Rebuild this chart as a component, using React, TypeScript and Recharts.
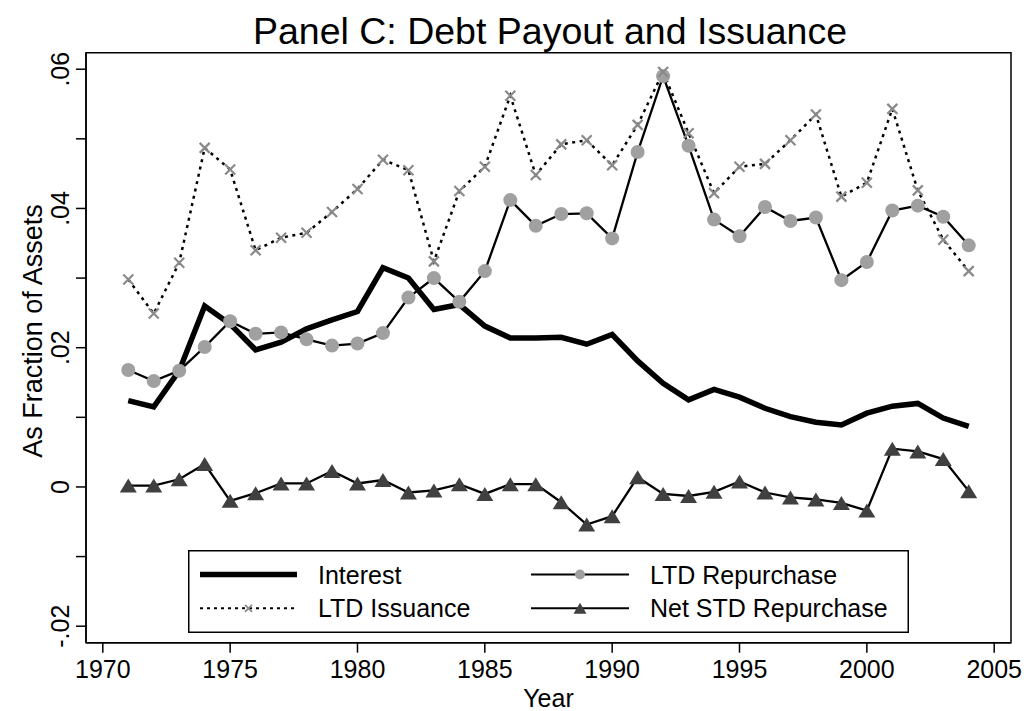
import React from "react";
import { LineChart, Line, XAxis, YAxis, ReferenceArea, Legend } from "recharts";

const FONT = '"Liberation Sans", Arial, Helvetica, sans-serif';

const years = [
  1971, 1972, 1973, 1974, 1975, 1976, 1977, 1978, 1979, 1980, 1981, 1982,
  1983, 1984, 1985, 1986, 1987, 1988, 1989, 1990, 1991, 1992, 1993, 1994,
  1995, 1996, 1997, 1998, 1999, 2000, 2001, 2002, 2003, 2004,
];

const interest = [
  0.0124, 0.0115, 0.0167, 0.026, 0.0234, 0.0197, 0.0208, 0.0227, 0.024, 0.0252,
  0.0315, 0.03, 0.0255, 0.0262, 0.0231, 0.0214, 0.0214, 0.0215, 0.0205, 0.0219,
  0.0181, 0.0149, 0.0125, 0.014, 0.0129, 0.0113, 0.0101, 0.0093, 0.0089, 0.0106,
  0.0116, 0.012, 0.0099, 0.0087,
];

const ltdRepurchase = [
  0.0168, 0.0152, 0.0167, 0.0201, 0.0238, 0.022, 0.0222, 0.0212, 0.0203, 0.0206,
  0.0221, 0.0272, 0.03, 0.0266, 0.031, 0.0412, 0.0375, 0.0392, 0.0393, 0.0357,
  0.0481, 0.059, 0.049, 0.0384, 0.036, 0.0402, 0.0382, 0.0387, 0.0297, 0.0323,
  0.0397, 0.0404, 0.0388, 0.0347,
];

const ltdIssuance = [
  0.0298, 0.0249, 0.0322, 0.0487, 0.0456, 0.034, 0.0358, 0.0365, 0.0395, 0.0428,
  0.047, 0.0455, 0.0324, 0.0425, 0.046, 0.0562, 0.0448, 0.0492, 0.0498, 0.0462,
  0.052, 0.0596, 0.0508, 0.0422, 0.046, 0.0464, 0.0498, 0.0535, 0.0417, 0.0437,
  0.0543, 0.0426, 0.0355, 0.031,
];

const netStdRepurchase = [
  0.0002, 0.0002, 0.0011, 0.0033, -0.002, -0.0009, 0.0005, 0.0005, 0.0023, 0.0005,
  0.001, -0.0008, -0.0005, 0.0004, -0.001, 0.0004, 0.0004, -0.0022, -0.0054, -0.0042,
  0.0014, -0.001, -0.0013, -0.0007, 0.0008, -0.0008, -0.0015, -0.0018, -0.0023, -0.0034,
  0.0055, 0.0051, 0.004, -0.0006,
];

const xTicks = [1970, 1975, 1980, 1985, 1990, 1995, 2000, 2005];
const yTicks = [-0.02, -0.01, 0, 0.01, 0.02, 0.03, 0.04, 0.05, 0.06];
const yTickLabels = ["-.02", "", "0", "", ".02", "", ".04", "", ".06"];

// legend is laid out row by row, two columns, like the original
const legendOrder = ["interest", "ltdRepurchase", "ltdIssuance", "netStdRepurchase"];

const X_DOMAIN = [1969.34, 2005.66];
const Y_DOMAIN = [-0.02237, 0.06237];

const data = years.map((year, i) => ({
  year,
  interest: interest[i],
  ltdRepurchase: ltdRepurchase[i],
  ltdIssuance: ltdIssuance[i],
  netStdRepurchase: netStdRepurchase[i],
}));

const CIRCLE_FILL = "#a0a0a0";
const X_COLOR = "#8a8a8a";
const TRI_FILL = "#404040";

function Cross({ cx, cy, s = 5, w = 2.2 }: any) {
  return (
    <g>
      <line x1={cx - s} y1={cy - s} x2={cx + s} y2={cy + s} stroke={X_COLOR} strokeWidth={w} />
      <line x1={cx - s} y1={cy + s} x2={cx + s} y2={cy - s} stroke={X_COLOR} strokeWidth={w} />
    </g>
  );
}

function Triangle({ cx, cy, half = 8.5, h = 14 }: any) {
  const pts = `${cx},${cy - h / 2} ${cx - half},${cy + h / 2} ${cx + half},${cy + h / 2}`;
  return <polygon points={pts} fill={TRI_FILL} />;
}

const XTick = ({ x, y, payload }: any) => (
  <text x={x} y={y} dy={25.6} textAnchor="middle" fontSize={25} fill="#000" fontFamily={FONT}>
    {payload.value}
  </text>
);

const YTick = ({ x, y, index }: any) => {
  const label = yTickLabels[index];
  if (!label) return <g />;
  const tx = x - 7;
  return (
    <text
      x={tx}
      y={y}
      transform={`rotate(-90 ${tx} ${y})`}
      textAnchor="middle"
      fontSize={25}
      fill="#000"
      fontFamily={FONT}
    >
      {label}
    </text>
  );
};

const sampleFor = (key: string, x0: number, x1: number, y: number) => {
  const mid = (x0 + x1) / 2;
  if (key === "interest")
    return <line x1={x0} y1={y} x2={x1} y2={y} stroke="#000" strokeWidth={5.5} />;
  if (key === "ltdIssuance")
    return (
      <g>
        <line x1={x0} y1={y} x2={x1} y2={y} stroke="#000" strokeWidth={2} strokeDasharray="3 4" />
        <Cross cx={mid} cy={y} s={3.5} w={1.8} />
      </g>
    );
  if (key === "ltdRepurchase")
    return (
      <g>
        <line x1={x0} y1={y} x2={x1} y2={y} stroke="#000" strokeWidth={2} />
        <circle cx={mid} cy={y} r={5} fill={CIRCLE_FILL} />
      </g>
    );
  return (
    <g>
      <line x1={x0} y1={y} x2={x1} y2={y} stroke="#000" strokeWidth={2} />
      <Triangle cx={mid} cy={y} half={6.5} h={11} />
    </g>
  );
};

const renderLegend = (props: any) => {
  const payload = props.payload || [];
  const items = legendOrder
    .map((k) => payload.find((p: any) => p.dataKey === k))
    .filter(Boolean);
  const rows = [24.5, 58.3];
  const cols = [
    { x0: 12, x1: 109, tx: 130 },
    { x0: 343, x1: 441, tx: 462 },
  ];
  return (
    <svg width={721} height={83} style={{ display: "block" }}>
      <rect x={0.75} y={0.75} width={719.5} height={81.5} fill="#fff" stroke="#000" strokeWidth={1.5} />
      {items.map((item: any, i: number) => {
        const r = rows[Math.floor(i / 2)];
        const c = cols[i % 2];
        return (
          <g key={item.dataKey}>
            {sampleFor(item.dataKey, c.x0, c.x1, r)}
            <text x={c.tx} y={r + 9} fontSize={25} fill="#000" fontFamily={FONT}>
              {item.value}
            </text>
          </g>
        );
      })}
    </svg>
  );
};

export default function App() {
  return (
    <div
      style={{
        position: "absolute",
        left: 0,
        top: 0,
        width: 1029,
        height: 711,
        background: "#fff",
        fontFamily: FONT,
      }}
    >
      <div
        style={{
          position: "absolute",
          left: 0,
          top: 13,
          width: 1100,
          textAlign: "center",
          fontSize: 37.5,
          lineHeight: "37.5px",
          color: "#000",
          whiteSpace: "nowrap",
        }}
      >
        Panel C: Debt Payout and Issuance
      </div>
      <LineChart
        width={1029}
        height={711}
        data={data}
        margin={{ top: 52.7, right: 18, bottom: 28.3, left: 26 }}
      >
        <XAxis
          dataKey="year"
          type="number"
          domain={X_DOMAIN}
          ticks={xTicks}
          allowDataOverflow
          height={40}
          tickSize={10}
          tickMargin={0}
          interval={0}
          axisLine={{ stroke: "#000", strokeWidth: 1.5 }}
          tickLine={{ stroke: "#000", strokeWidth: 1.5 }}
          tick={<XTick />}
          label={{
            content: (p: any) => (
              <text
                x={p.viewBox.x + p.viewBox.width / 2}
                y={707}
                textAnchor="middle"
                fontSize={25}
                fill="#000"
                fontFamily={FONT}
              >
                Year
              </text>
            ),
          }}
        />
        <YAxis
          type="number"
          domain={Y_DOMAIN}
          ticks={yTicks}
          allowDataOverflow
          width={60}
          tickSize={10}
          tickMargin={0}
          interval={0}
          axisLine={{ stroke: "#000", strokeWidth: 1.5 }}
          tickLine={{ stroke: "#000", strokeWidth: 1.5 }}
          tick={<YTick />}
          label={{
            content: () => (
              <text
                x={42}
                y={331}
                transform="rotate(-90 42 331)"
                textAnchor="middle"
                fontSize={27}
                fill="#000"
                fontFamily={FONT}
              >
                As Fraction of Assets
              </text>
            ),
          }}
        />
        <ReferenceArea
          x1={X_DOMAIN[0]}
          x2={X_DOMAIN[1]}
          y1={Y_DOMAIN[0]}
          y2={Y_DOMAIN[1]}
          fill="none"
          stroke="#000"
          strokeWidth={1.5}
          ifOverflow="visible"
        />
        <Line
          dataKey="interest"
          name="Interest"
          type="linear"
          stroke="#000"
          strokeWidth={5.5}
          dot={false}
          activeDot={false}
          isAnimationActive={false}
        />
        <Line
          dataKey="ltdRepurchase"
          name="LTD Repurchase"
          type="linear"
          stroke="#000"
          strokeWidth={2.3}
          dot={(p: any) => <circle key={`c${p.index}`} cx={p.cx} cy={p.cy} r={7} fill={CIRCLE_FILL} />}
          activeDot={false}
          isAnimationActive={false}
        />
        <Line
          dataKey="ltdIssuance"
          name="LTD Issuance"
          type="linear"
          stroke="#000"
          strokeWidth={2.5}
          strokeDasharray="3 4.5"
          dot={(p: any) => <Cross key={`x${p.index}`} cx={p.cx} cy={p.cy} />}
          activeDot={false}
          isAnimationActive={false}
        />
        <Line
          dataKey="netStdRepurchase"
          name="Net STD Repurchase"
          type="linear"
          stroke="#000"
          strokeWidth={2.3}
          dot={(p: any) => <Triangle key={`t${p.index}`} cx={p.cx} cy={p.cy} />}
          activeDot={false}
          isAnimationActive={false}
        />
        <Legend
          layout="horizontal"
          verticalAlign="middle"
          align="center"
          width={721}
          height={83}
          wrapperStyle={{ left: 188, top: 550, width: 721, height: 83 }}
          content={renderLegend}
        />
      </LineChart>
    </div>
  );
}
